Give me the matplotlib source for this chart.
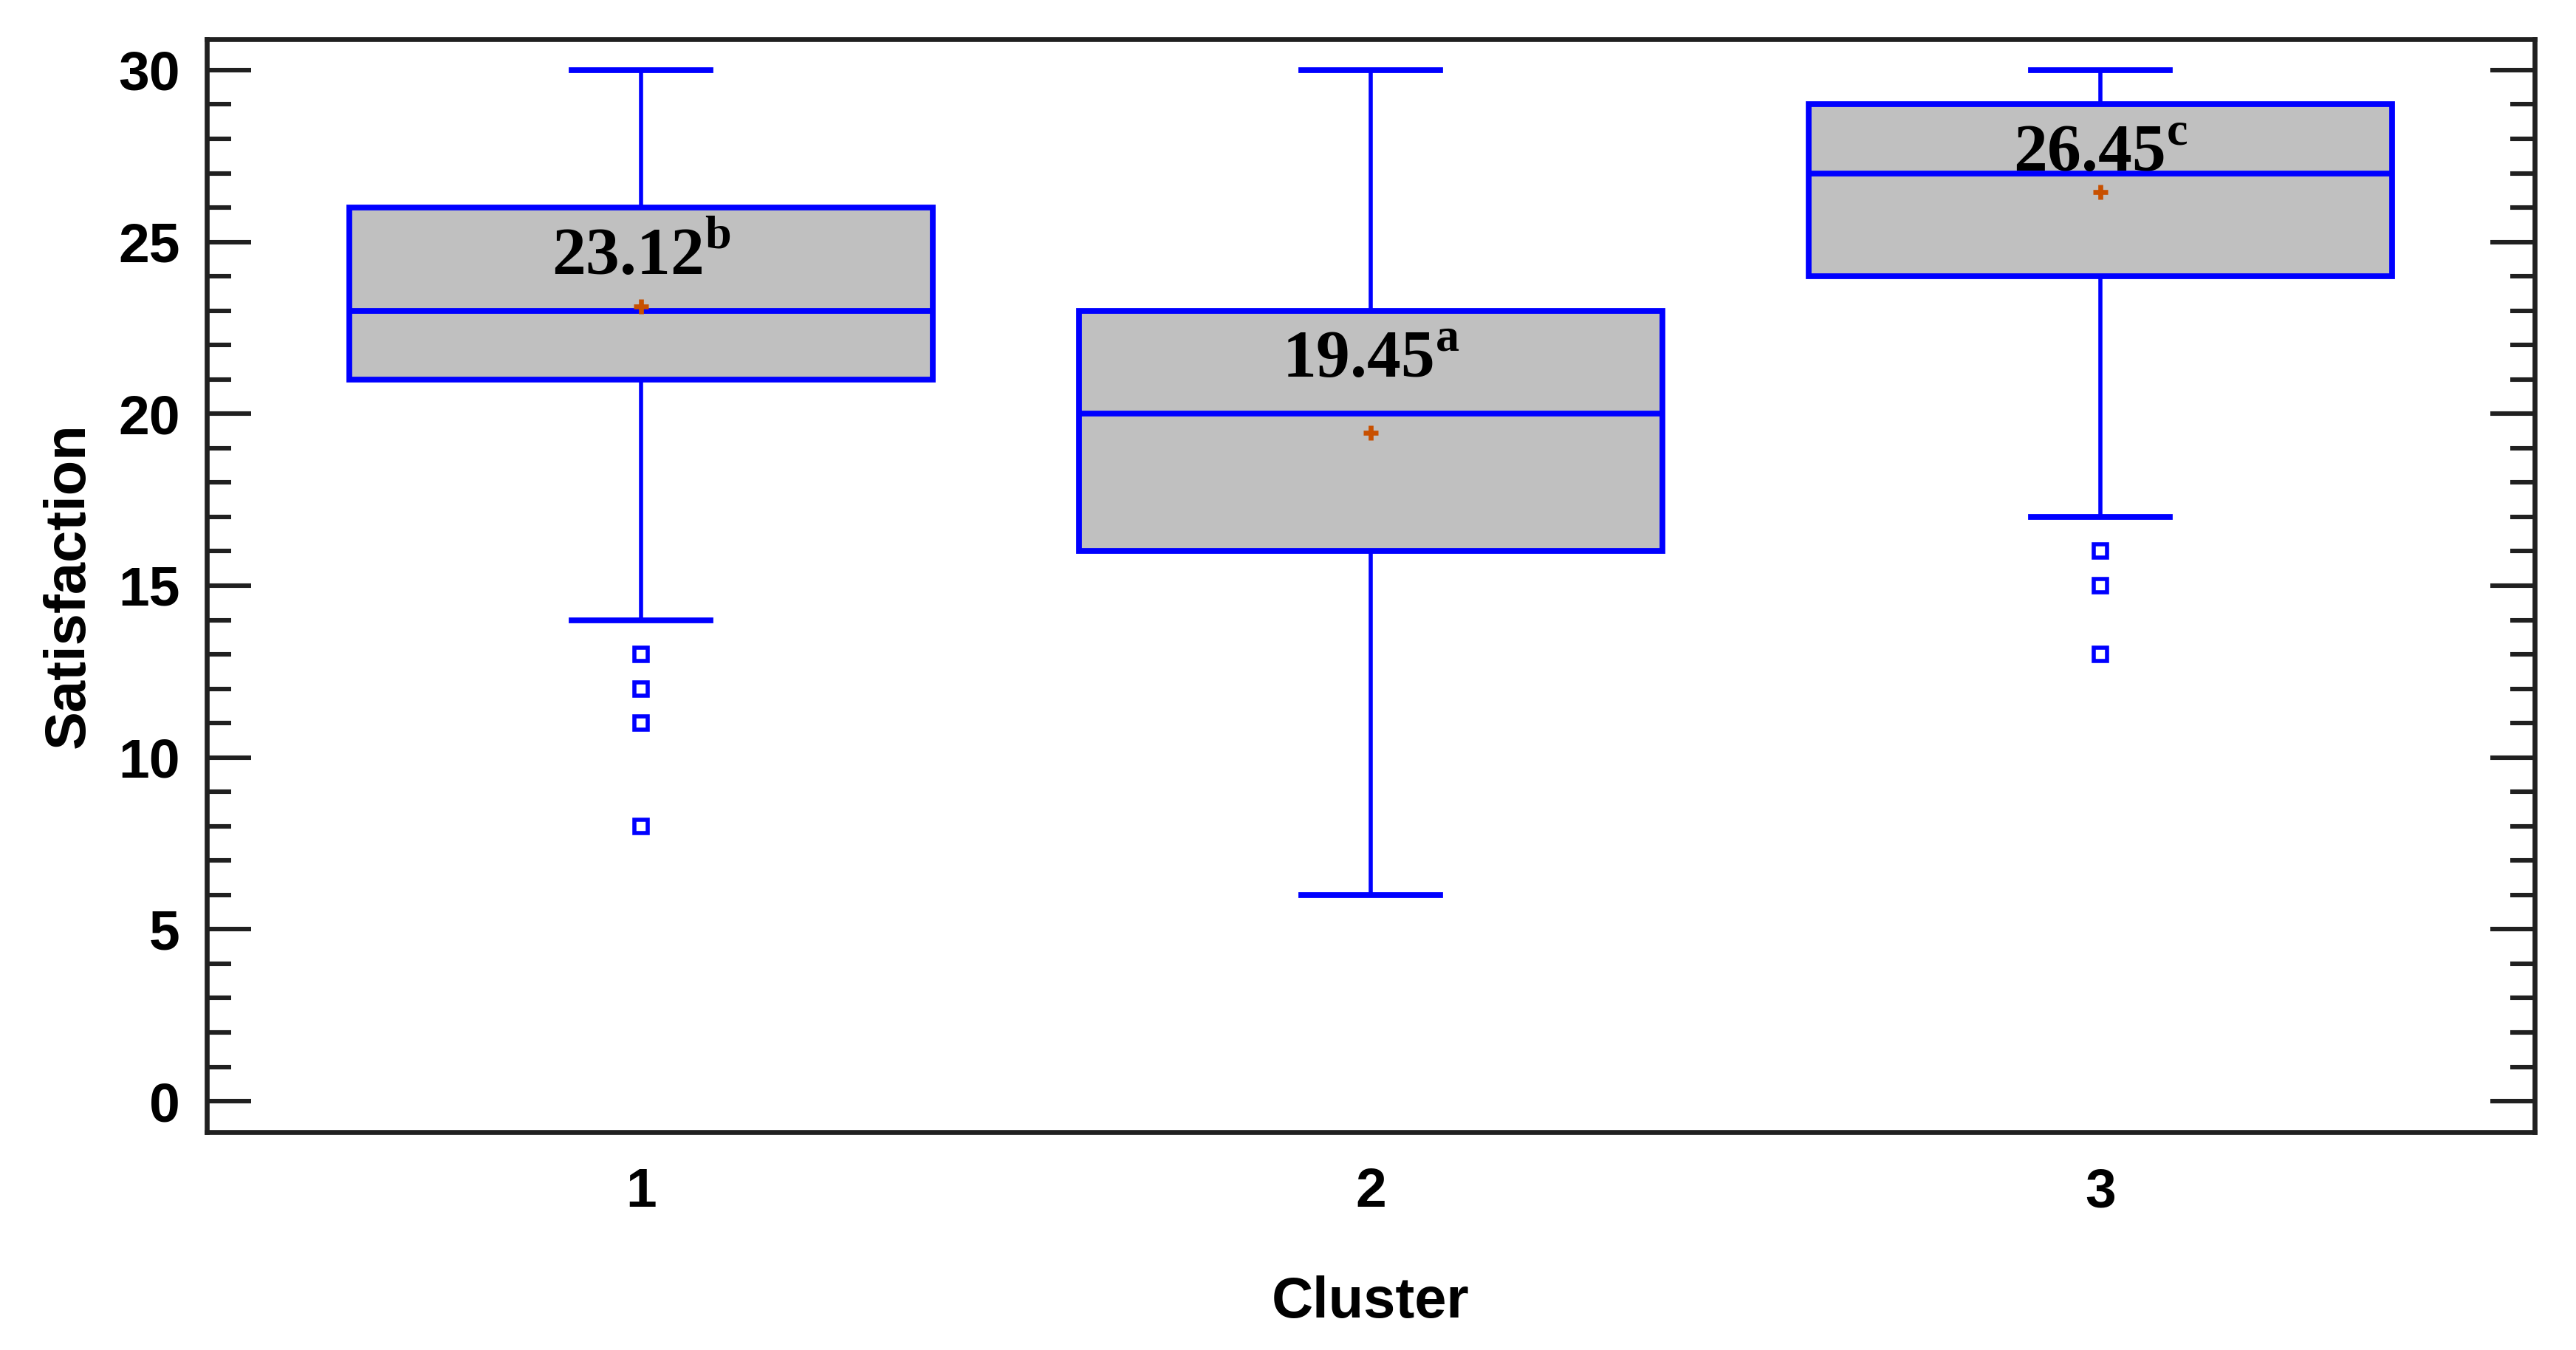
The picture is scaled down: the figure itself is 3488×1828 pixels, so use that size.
import matplotlib
matplotlib.use('Agg')
import matplotlib.pyplot as plt
from matplotlib.ticker import MultipleLocator

# box summary values
clusters = [1, 2, 3]
q1 = [21, 16, 24]
medians = [23, 20, 27]
q3 = [26, 23, 29]
whis_low = [14, 6, 17]
whis_high = [30, 30, 30]
means = [23.12, 19.45, 26.45]
fliers = [[13, 12, 11, 8], [], [16, 15, 13]]
letters = ['b', 'a', 'c']

plt.rcParams['font.family'] = ['Liberation Sans', 'DejaVu Sans']
plt.rcParams['font.weight'] = 'bold'
plt.rcParams['mathtext.fontset'] = 'custom'
plt.rcParams['mathtext.rm'] = 'Liberation Serif'
plt.rcParams['mathtext.bf'] = 'Liberation Serif:bold'

blue = '#0000FF'

fig = plt.figure(figsize=(17.44, 9.14), dpi=200)
ax = fig.add_axes([0.0803, 0.1614, 0.9036, 0.8096])

# build stats for bxp
stats = []
for i in range(len(clusters)):
    stats.append({
        'label': str(clusters[i]),
        'q1': q1[i], 'med': medians[i], 'q3': q3[i],
        'whislo': whis_low[i], 'whishi': whis_high[i],
        'mean': means[i], 'fliers': fliers[i],
    })

ax.bxp(stats, positions=clusters, widths=0.8, capwidths=0.19,
       patch_artist=True, showmeans=True,
       boxprops=dict(facecolor='#C0C0C0', edgecolor=blue, linewidth=2.8),
       medianprops=dict(color=blue, linewidth=2.8),
       whiskerprops=dict(color=blue, linewidth=2.0),
       capprops=dict(color=blue, linewidth=2.8),
       flierprops=dict(marker='s', markerfacecolor='none', markeredgecolor=blue,
                       markersize=6.5, markeredgewidth=2.0, linestyle='none'),
       meanprops=dict(marker='+', markeredgecolor='#C85000', markersize=7,
                      markeredgewidth=2.4))

# mean labels with significance letters
for i in range(len(clusters)):
    ax.text(clusters[i], q3[i] - 1.95, '%.2f$^{\\mathbf{%s}}$' % (means[i], letters[i]),
            ha='center', va='baseline', fontsize=33,
            family='Liberation Serif', fontweight='bold', color='black')

ax.set_xlim(0.405, 3.595)
ax.set_ylim(-0.9, 30.9)
ax.yaxis.set_major_locator(MultipleLocator(5))
ax.yaxis.set_minor_locator(MultipleLocator(1))

ax.tick_params(axis='y', which='both', direction='in', left=True, right=True,
               width=2.2, color='#202020', labelsize=27, pad=13)
ax.tick_params(axis='y', which='major', length=21.5)
ax.tick_params(axis='y', which='minor', length=12)
ax.tick_params(axis='x', length=0, labelsize=27, pad=17)

for s in ax.spines.values():
    s.set_linewidth(2.4)
    s.set_color('#202020')

ax.set_xlabel('Cluster', fontsize=28, fontweight='bold', labelpad=28)
ax.set_ylabel('Satisfaction', fontsize=28, fontweight='bold', labelpad=11)

fig.savefig('out.png', dpi=200)
